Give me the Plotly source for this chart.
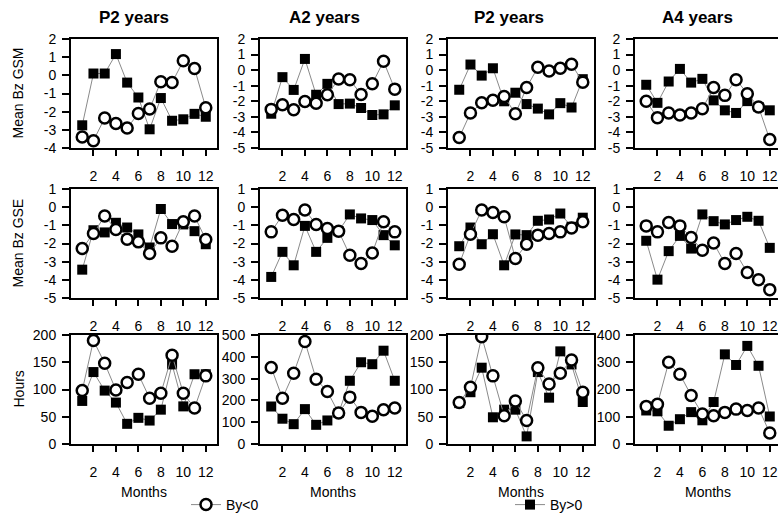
import plotly.graph_objects as go

months = list(range(1, 13))
col_titles = ["P2 years", "A2 years", "P2 years", "A4 years"]
row_titles = ["Mean Bz GSM", "Mean Bz GSE", "Hours"]
x_title = "Months"
x_ticks = [2, 4, 6, 8, 10, 12]

# Row 1: Mean Bz GSM
gsm_neg_c1 = [-3.4, -3.6, -2.35, -2.65, -2.9, -2.1, -1.85, -0.35, -0.4, 0.8, 0.38, -1.78]
gsm_pos_c1 = [-2.75, 0.1, 0.1, 1.17, -0.4, -1.22, -2.97, -1.25, -2.5, -2.42, -2.12, -2.28]
gsm_neg_c2 = [-2.52, -2.22, -2.55, -2.02, -2.13, -1.58, -0.57, -0.62, -1.56, -0.88, 0.57, -1.22]
gsm_pos_c2 = [-2.8, -0.45, -1.27, 0.72, -1.58, -0.88, -2.18, -2.15, -2.43, -2.88, -2.84, -2.26]
gsm_neg_c3 = [-4.33, -2.75, -2.1, -1.94, -1.69, -2.8, -1.12, 0.19, -0.05, 0.12, 0.38, -0.77]
gsm_pos_c3 = [-1.26, 0.36, -0.35, 0.12, -2.0, -1.45, -2.18, -2.47, -2.84, -2.12, -2.4, -0.58]
gsm_neg_c4 = [-2.0, -3.05, -2.75, -2.88, -2.75, -2.48, -1.12, -1.62, -0.62, -1.52, -2.37, -4.46]
gsm_pos_c4 = [-0.94, -2.1, -0.73, 0.08, -0.8, -0.56, -1.94, -2.58, -2.75, -1.99, -2.37, -2.58]

# Row 2: Mean Bz GSE
gse_neg_c1 = [-2.28, -1.45, -0.49, -1.23, -1.76, -1.91, -2.55, -1.69, -2.15, -0.8, -0.49, -1.78]
gse_pos_c1 = [-3.44, -1.27, -1.39, -0.86, -1.12, -1.5, -2.22, -0.1, -0.93, -0.95, -1.32, -2.04]
gse_neg_c2 = [-1.36, -0.44, -0.68, -0.16, -0.95, -1.17, -1.32, -2.65, -3.1, -2.52, -0.8, -1.36]
gse_pos_c2 = [-3.84, -2.46, -3.2, -1.03, -2.46, -1.69, -1.32, -0.4, -0.62, -0.71, -1.54, -2.1]
gse_neg_c3 = [-3.14, -1.49, -0.16, -0.29, -0.53, -2.83, -2.04, -1.54, -1.45, -1.36, -1.14, -0.8]
gse_pos_c3 = [-2.15, -1.12, -2.04, -1.49, -3.2, -1.5, -1.54, -0.75, -0.68, -0.35, -1.08, -0.58]
gse_neg_c4 = [-1.03, -1.36, -0.84, -1.03, -1.67, -2.37, -1.97, -3.1, -2.55, -3.6, -3.99, -4.54]
gse_pos_c4 = [-1.85, -3.99, -2.42, -1.58, -2.28, -0.4, -0.77, -0.95, -0.71, -0.53, -0.75, -2.24]

# Row 3: Hours
hrs_neg_c1 = [98, 190, 148, 99, 113, 128, 84, 93, 163, 93, 66, 125]
hrs_pos_c1 = [79, 132, 98, 76, 37, 48, 43, 63, 146, 69, 128, 128]
hrs_neg_c2 = [351, 210, 325, 470, 297, 241, 142, 215, 145, 127, 157, 165]
hrs_pos_c2 = [172, 116, 91, 160, 88, 108, 142, 290, 375, 366, 428, 290]
hrs_neg_c3 = [76, 104, 197, 125, 52, 79, 43, 140, 110, 130, 154, 95]
hrs_pos_c3 = [75, 95, 140, 49, 63, 63, 14, 132, 85, 170, 146, 77]
hrs_neg_c4 = [138, 146, 300, 256, 178, 110, 104, 116, 128, 123, 132, 40]
hrs_pos_c4 = [123, 120, 67, 91, 117, 87, 154, 329, 290, 360, 287, 101]

neg_rows = [[gsm_neg_c1, gsm_neg_c2, gsm_neg_c3, gsm_neg_c4],
            [gse_neg_c1, gse_neg_c2, gse_neg_c3, gse_neg_c4],
            [hrs_neg_c1, hrs_neg_c2, hrs_neg_c3, hrs_neg_c4]]
pos_rows = [[gsm_pos_c1, gsm_pos_c2, gsm_pos_c3, gsm_pos_c4],
            [gse_pos_c1, gse_pos_c2, gse_pos_c3, gse_pos_c4],
            [hrs_pos_c1, hrs_pos_c2, hrs_pos_c3, hrs_pos_c4]]

y_ranges = [[(-4, 2), (-5, 2), (-5, 2), (-5, 2)],
            [(-5, 1), (-5, 1), (-5, 1), (-5, 1)],
            [(0, 200), (0, 500), (0, 200), (0, 400)]]
y_dticks = [[1, 1, 1, 1], [1, 1, 1, 1], [50, 100, 50, 100]]

W, H = 778, 513
FONT = "Liberation Sans, Arial, sans-serif"
col_left = [71, 260, 448, 635]
col_w = 146
row_top = [39, 189, 335]
row_h = 109

fig = go.Figure()
layout = {}
for r in range(3):
    for c in range(4):
        k = r * 4 + c + 1
        xa = "x" if k == 1 else f"x{k}"
        ya = "y" if k == 1 else f"y{k}"
        x0 = col_left[c] / W
        x1 = min((col_left[c] + col_w) / W, 1.0)
        xr = (0, 13 * (x1 * W - col_left[c]) / col_w)
        y1 = 1 - row_top[r] / H
        y0 = 1 - (row_top[r] + row_h) / H
        first = (r == 0 and c == 0)
        lo, hi = y_ranges[r][c]
        yvals = list(range(lo, hi + 1, y_dticks[r][c]))
        fig.add_trace(go.Scatter(
            x=months, y=pos_rows[r][c], mode="lines+markers", name="By>0",
            xaxis=xa, yaxis=ya, legend="legend2", showlegend=first,
            line=dict(color="#8a8a8a", width=1),
            marker=dict(symbol="square", size=10, color="black", line=dict(width=0))))
        fig.add_trace(go.Scatter(
            x=months, y=neg_rows[r][c], mode="lines+markers", name="By<0",
            xaxis=xa, yaxis=ya, legend="legend", showlegend=first,
            line=dict(color="#8a8a8a", width=1),
            marker=dict(symbol="circle", size=11, color="white",
                        line=dict(color="black", width=2.5))))
        xkey = "xaxis" if k == 1 else f"xaxis{k}"
        ykey = "yaxis" if k == 1 else f"yaxis{k}"
        layout[xkey] = dict(
            domain=[x0, x1], range=list(xr), anchor=ya,
            tickmode="array", tickvals=x_ticks, ticks="outside", ticklen=6,
            tickwidth=2, tickcolor="black", ticklabelstandoff=8,
            showline=True, linecolor="black", linewidth=2, mirror=True,
            showgrid=False, zeroline=False, automargin=False,
            tickfont=dict(family=FONT, size=14, color="black"))
        layout[ykey] = dict(
            domain=[y0, y1], range=[lo, hi], anchor=xa,
            tickmode="array", tickvals=yvals, ticktext=[str(v) for v in yvals],
            ticks="outside", ticklen=7,
            tickwidth=2, tickcolor="black", ticklabelstandoff=3,
            showline=True, linecolor="black", linewidth=2,
            mirror=(c < 3), showgrid=False, zeroline=False, automargin=False,
            tickfont=dict(family=FONT, size=14, color="black"))

annotations = []
title_cx = [134, 324, 509, 697]
for c, t in enumerate(col_titles):
    annotations.append(dict(text=f"<b>{t}</b>", x=title_cx[c] / W, y=1 - 17 / H,
                            xref="paper", yref="paper", showarrow=False,
                            xanchor="center", yanchor="middle",
                            font=dict(family=FONT, size=17, color="black")))
for r, t in enumerate(row_titles):
    annotations.append(dict(text=t, x=18 / W, y=1 - (row_top[r] + row_h / 2) / H,
                            xref="paper", yref="paper", showarrow=False, textangle=-90,
                            xanchor="center", yanchor="middle",
                            font=dict(family=FONT, size=14, color="black")))
for c in range(4):
    annotations.append(dict(text=x_title, x=(col_left[c] + col_w / 2) / W, y=1 - 492 / H,
                            xref="paper", yref="paper", showarrow=False,
                            xanchor="center", yanchor="middle",
                            font=dict(family=FONT, size=14, color="black")))

fig.update_layout(
    width=W, height=H, margin=dict(l=0, r=0, t=0, b=0, autoexpand=False),
    paper_bgcolor="white", plot_bgcolor="white",
    font=dict(family=FONT, size=14, color="black"),
    annotations=annotations,
    legend=dict(x=186 / W, y=-8 / H, xanchor="left", yanchor="bottom",
                bgcolor="rgba(0,0,0,0)", font=dict(family=FONT, size=14)),
    legend2=dict(x=510 / W, y=-8 / H, xanchor="left", yanchor="bottom",
                 bgcolor="rgba(0,0,0,0)", font=dict(family=FONT, size=14)),
    **layout)

fig.write_html("out.html", config={"displayModeBar": False},
               post_script="document.body.style.margin='0';document.body.style.overflow='hidden';")
